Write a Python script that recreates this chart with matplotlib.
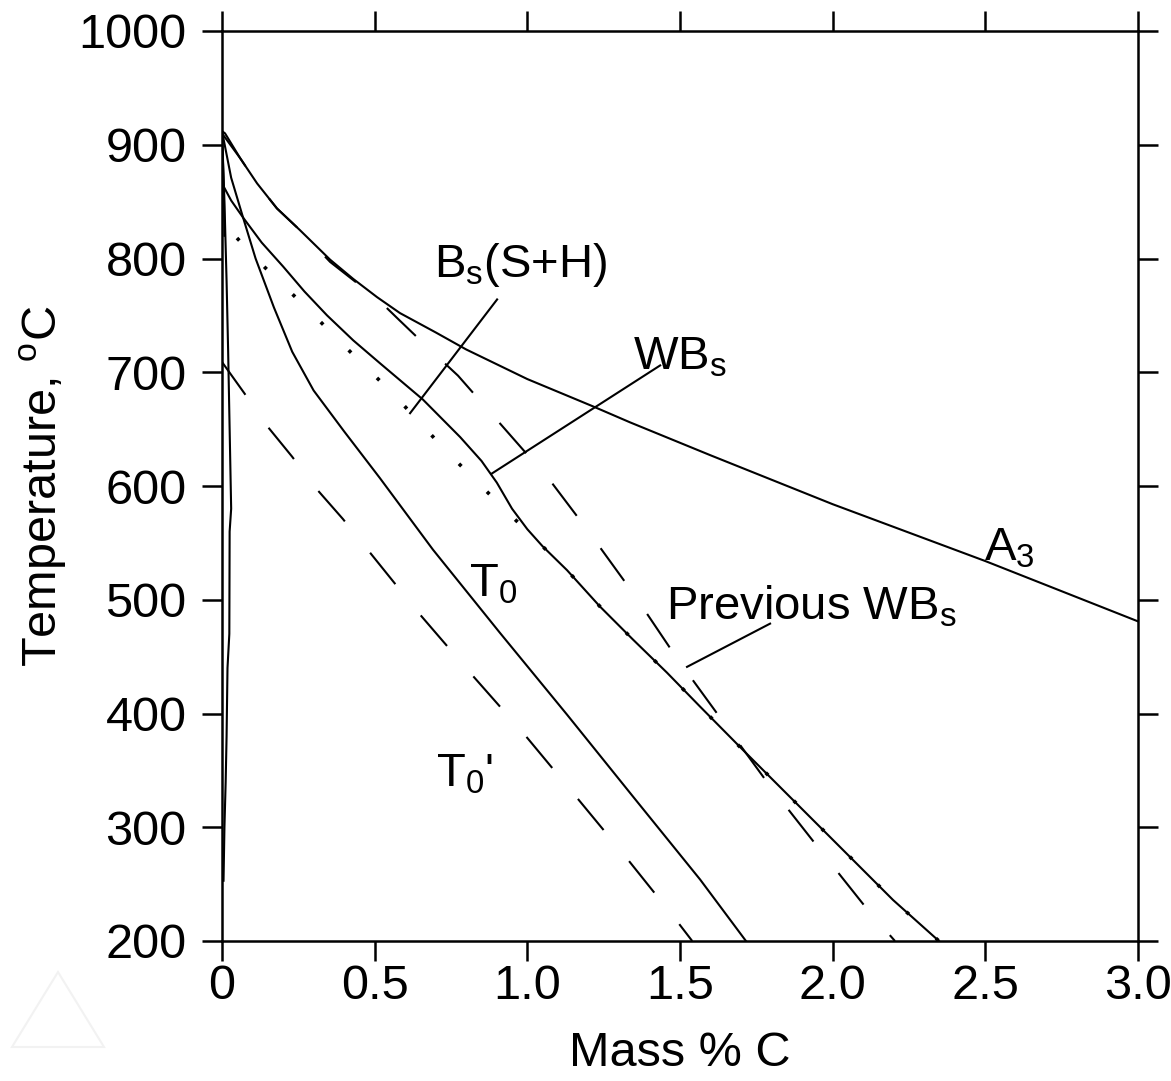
import matplotlib
matplotlib.use("Agg")
import matplotlib.pyplot as plt
from matplotlib.patches import Polygon

plt.rcParams['font.family'] = ['Liberation Sans', 'DejaVu Sans']
plt.rcParams['lines.scale_dashes'] = False

# ---- data (mass % C, temperature degC) ----
a3_x = [0.0, 0.01, 0.06, 0.115, 0.18, 0.255, 0.354, 0.43, 0.508, 0.583, 0.7, 0.8, 1.0,
        1.215, 1.336, 1.6, 2.0, 2.5, 3.0]
a3_t = [912, 910, 888, 866, 844, 825, 799, 782, 766, 752, 735, 720, 694,
        670, 656, 627, 584, 534, 481]

wbs_x = [0.0, 0.03, 0.069, 0.13, 0.2, 0.27, 0.344, 0.43, 0.517, 0.658, 0.78, 0.85, 0.9,
         0.95, 1.0, 1.05, 1.13, 1.238, 1.346, 1.457, 1.566, 1.706, 1.87, 2.034, 2.198, 2.348]
wbs_t = [866, 851, 836, 814, 793, 771, 750, 728, 708, 676, 643, 622, 603,
         580, 562, 547, 526, 494, 465, 436, 406, 368, 324, 280, 236, 200]

bs_sh_x = [0.049, 0.141, 0.283, 0.42, 0.557, 0.737, 0.92, 1.0, 1.13, 1.238, 1.346, 1.457,
           1.566, 1.706, 1.87, 2.034, 2.198, 2.348]
bs_sh_t = [818, 792, 755, 718, 682, 630, 581, 560, 526, 494, 465, 436,
           406, 368, 324, 280, 236, 200]

prev_wbs_x = [0.0, 0.06, 0.115, 0.18, 0.255, 0.354, 0.43, 0.507, 0.58, 0.681, 0.773,
              1.074, 1.195, 1.346, 1.494, 1.798, 1.959, 2.119, 2.204]
prev_wbs_t = [910, 888, 866, 844, 825, 797, 781, 765, 746, 720, 697,
              605, 562, 506, 447, 335, 280, 226, 200]

t0_x = [0.0, 0.03, 0.069, 0.11, 0.17, 0.23, 0.3, 0.4, 0.517, 0.691, 0.91, 1.13, 1.346,
        1.566, 1.716]
t0_t = [912, 871, 836, 800, 757, 718, 684, 648, 607, 544, 471, 399, 327,
        254, 200]

t0p_x = [0.0, 0.072, 0.15, 0.229, 0.311, 0.396, 0.642, 0.812, 0.983, 1.15, 1.313, 1.477, 1.54]
t0p_t = [709, 682, 652, 626, 597, 571, 489, 436, 384, 330, 277, 222, 200]

fer_x = [0.0, 0.008, 0.015, 0.02, 0.025, 0.03, 0.025, 0.024, 0.018, 0.015, 0.012, 0.008, 0.005]
fer_t = [912, 850, 780, 720, 650, 580, 560, 470, 440, 380, 340, 300, 253]

fer2_x = [0.0, 0.006, 0.008]
fer2_t = [912, 860, 820]

xticks = [0, 0.5, 1.0, 1.5, 2.0, 2.5, 3.0]
xtick_labels = ['0', '0.5', '1.0', '1.5', '2.0', '2.5', '3.0']
yticks = [200, 300, 400, 500, 600, 700, 800, 900, 1000]

W, H = 1171, 1081
fig = plt.figure(figsize=(W / 100, H / 100), dpi=100)
ax = fig.add_axes([222 / W, 140 / H, (1138 - 222) / W, (1050 - 140) / H])

lw = 1.5
ax.plot(a3_x, a3_t, color='black', lw=lw)
ax.plot(wbs_x, wbs_t, color='black', lw=lw)
ax.plot(t0_x, t0_t, color='black', lw=lw)
ax.plot(fer_x, fer_t, color='black', lw=lw)
ax.plot(fer2_x, fer2_t, color='black', lw=lw)
ax.plot(prev_wbs_x, prev_wbs_t, color='black', lw=lw, dashes=(29, 29))
ax.plot(t0p_x, t0p_t, color='black', lw=lw, dashes=(29, 29))
ax.plot(bs_sh_x, bs_sh_t, color='black', lw=2.6, dashes=(2.5, 26))

# leader lines for labels
ax.plot([0.901, 0.616], [764, 664], color='black', lw=lw)
ax.plot([1.435, 0.884], [706, 611], color='black', lw=lw)
ax.plot([1.795, 1.523], [479, 441], color='black', lw=lw)

fs_in = 34
ax.text(0.979, 794, r'B$_\mathregular{s}$(S+H)', fontsize=fs_in, ha='center', va='center')
ax.text(1.5, 713, r'WB$_\mathregular{s}$', fontsize=fs_in, ha='center', va='center')
ax.text(2.58, 545, r'A$_\mathregular{3}$', fontsize=fs_in, ha='center', va='center')
ax.text(0.888, 513, r'T$_\mathregular{0}$', fontsize=fs_in, ha='center', va='center')
ax.text(1.93, 494, r'Previous WB$_\mathregular{s}$', fontsize=fs_in, ha='center', va='center')
ax.text(0.796, 346, r"T$_\mathregular{0}$'", fontsize=fs_in, ha='center', va='center')

fs = 35
ax.set_xlim(0, 3.0)
ax.set_ylim(200, 1000)
ax.set_xticks(xticks)
ax.set_xticklabels(xtick_labels)
ax.set_yticks(yticks)
for s in ax.spines.values():
    s.set_linewidth(1.8)
ax.tick_params(which='both', direction='out', length=14.5, width=1.8, labelsize=fs,
               top=True, right=True, labeltop=False, labelright=False)
ax.tick_params(axis='x', pad=2)
ax.tick_params(axis='y', pad=11)
ax.set_xlabel('Mass % C', fontsize=fs, labelpad=16)
ax.set_ylabel(r'Temperature, $^\mathregular{o}$C', fontsize=fs, labelpad=7)

# faint watermark triangle
tri = Polygon([[12 / W, 1 - 1047 / H], [58 / W, 1 - 972 / H], [104 / W, 1 - 1047 / H]],
              closed=True, fill=False, edgecolor='#f2f2f2', lw=1.5, transform=fig.transFigure)
fig.patches.append(tri)

fig.savefig('out.png', dpi=100, facecolor='white')
